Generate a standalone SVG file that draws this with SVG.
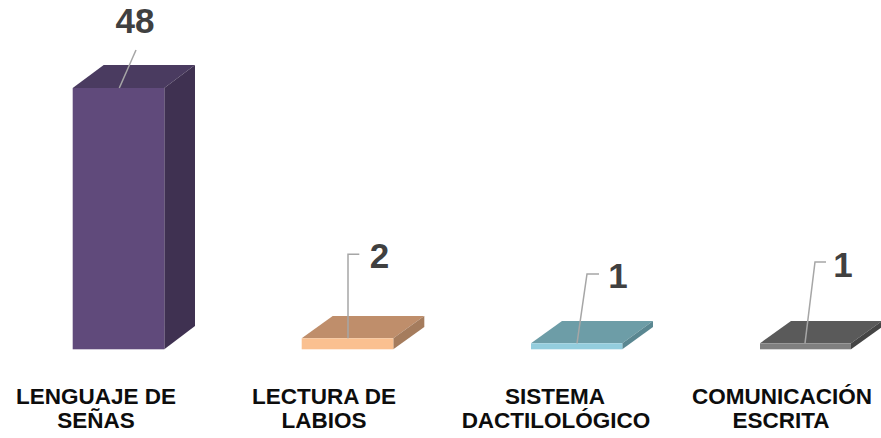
<svg xmlns="http://www.w3.org/2000/svg" width="881" height="438" viewBox="0 0 881 438">
<style>
.val{font-family:"Liberation Sans",Arial,sans-serif;font-weight:bold;font-size:35px;fill:#404040;text-anchor:middle}
.cat{font-family:"Liberation Sans",Arial,sans-serif;font-weight:bold;font-size:22.5px;fill:#0d0d0d;text-anchor:middle}
.lead{fill:none;stroke:#a6a6a6;stroke-width:1.5}
</style>
<rect width="881" height="438" fill="#ffffff"/>
<g id="bar-lenguaje">
<polygon points="72.7,88 103.7,65 195,65 164.3,88" fill="#4a3b60"/>
<polygon points="164.3,88 195,65 195,326 164.3,349.3" fill="#3f3151"/>
<rect x="72.7" y="88" width="91.6" height="261.3" fill="#604a7b"/>
<text class="val" x="135" y="33">48</text>
<text class="cat" x="96" y="404">LENGUAJE DE</text>
<text class="cat" x="96" y="428">SEÑAS</text>
</g>
<g id="bar-lectura">
<polygon points="301.7,338.3 332.7,316 424.3,316 393.3,338.3" fill="#bf8e6b"/>
<polygon points="393.3,338.3 424.3,316 424.3,327 393.3,349.3" fill="#a57c5d"/>
<rect x="301.7" y="338.3" width="91.6" height="11" fill="#fac090"/>
<text class="val" x="379.5" y="268">2</text>
<text class="cat" x="324" y="404">LECTURA DE</text>
<text class="cat" x="324" y="428">LABIOS</text>
</g>
<g id="bar-sistema">
<polygon points="531,343.3 562,321 653,321 622.3,343.3" fill="#6d9da7"/>
<polygon points="622.3,343.3 653,321 653,327 622.3,349.3" fill="#5a8791"/>
<rect x="531" y="343.3" width="91.3" height="6" fill="#93cddd"/>
<text class="val" x="618" y="288">1</text>
<text class="cat" x="555" y="404">SISTEMA</text>
<text class="cat" x="556" y="428">DACTILOLÓGICO</text>
</g>
<g id="bar-comunicacion">
<polygon points="760,343.3 791,321 882,321 851,343.3" fill="#5a5a5a"/>
<polygon points="851,343.3 882,321 882,327 851,349.3" fill="#454545"/>
<rect x="760" y="343.3" width="91" height="6" fill="#7f7f7f"/>
<text class="val" x="843" y="277">1</text>
<text class="cat" x="782" y="404">COMUNICACIÓN</text>
<text class="cat" x="781" y="428">ESCRITA</text>
</g>
<g id="connectors">
<polyline class="lead" points="119.3,88 136,50"/>
<polyline class="lead" points="348,338.3 348,254.3 359.3,254.3"/>
<polyline class="lead" points="577,343.3 587,274 599,274"/>
<polyline class="lead" points="805,343.3 815,262 826,262"/>
</g>
</svg>
